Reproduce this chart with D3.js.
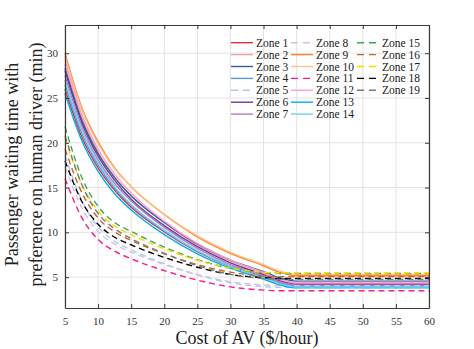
<!DOCTYPE html>
<html>
<head>
<meta charset="utf-8">
<script src="https://cdn.jsdelivr.net/npm/d3@7"></script>
<style>
  body { margin: 0; background: #fff; }
  svg { display: block; }
</style>
</head>
<body>
<svg width="474" height="349"></svg>
<script>
var serif = "'Liberation Serif', 'DejaVu Serif', serif";

// cost of AV ($/hour) sample points
var costs = [5, 7.5, 10, 12.5, 15, 20, 25, 30, 35, 37.5, 40, 45, 50, 55, 60];

var zoneNames = ["Zone 1", "Zone 2", "Zone 3", "Zone 4", "Zone 5", "Zone 6", "Zone 7",
  "Zone 8", "Zone 9", "Zone 10", "Zone 11", "Zone 12", "Zone 13", "Zone 14",
  "Zone 15", "Zone 16", "Zone 17", "Zone 18", "Zone 19"];

var zoneColors = ["#e8303a", "#f4a3a3", "#2f5f98", "#5b9bd5", "#a9cbee", "#6a3d8f", "#b07cc6",
  "#dcbde3", "#ff7f27", "#ffc285", "#ff1a8c", "#ff9fd6", "#00aeef", "#6fd0f0",
  "#3caa4b", "#c8642a", "#ffd500", "#000000", "#7a7a7a"];

var zoneDashed = [false, false, false, false, true, false, false,
  true, false, false, true, false, false, false,
  true, true, true, true, true];

// waiting time (min), one array per zone
var zone1  = [26.0, 20.7, 17.2, 14.7, 12.8, 10.05, 7.85, 6.2, 4.99, 4.33, 4.0, 4.0, 4.0, 4.0, 4.0];
var zone2  = [28.8, 22.9, 19.0, 16.2, 14.1, 11.1, 8.6, 6.8, 5.45, 4.72, 4.35, 4.35, 4.35, 4.35, 4.35];
var zone3  = [28.3, 22.6, 18.8, 16.1, 14.05, 11.1, 8.7, 6.9, 5.62, 4.91, 4.55, 4.55, 4.55, 4.55, 4.55];
var zone4  = [26.5, 21.1, 17.5, 14.9, 13.0, 10.15, 7.9, 6.2, 4.96, 4.29, 3.95, 3.95, 3.95, 3.95, 3.95];
var zone5  = [18.6, 13.6, 10.6, 9.0, 8.05, 6.5, 5.25, 4.37, 3.94, 3.85, 3.85, 3.85, 3.85, 3.85, 3.85];
var zone6  = [28.0, 22.3, 18.5, 15.8, 13.7, 10.75, 8.4, 6.6, 5.27, 4.56, 4.2, 4.2, 4.2, 4.2, 4.2];
var zone7  = [27.5, 21.9, 18.1, 15.45, 13.5, 10.55, 8.2, 6.4, 5.15, 4.45, 4.1, 4.1, 4.1, 4.1, 4.1];
var zone8  = [17.3, 12.8, 10.1, 8.7, 7.8, 6.4, 5.3, 4.5, 4.13, 4.05, 4.05, 4.05, 4.05, 4.05, 4.05];
var zone9  = [30.0, 24.0, 20.1, 17.2, 15.1, 12.0, 9.5, 7.65, 6.27, 5.52, 5.15, 5.15, 5.15, 5.15, 5.15];
var zone10 = [29.7, 23.8, 19.9, 17.1, 15.1, 12.0, 9.6, 7.75, 6.4, 5.67, 5.3, 5.3, 5.3, 5.3, 5.3];
var zone11 = [16.0, 11.7, 9.2, 7.9, 7.05, 5.73, 4.66, 3.91, 3.55, 3.47, 3.47, 3.47, 3.47, 3.47, 3.47];
var zone12 = [29.3, 23.3, 19.3, 16.5, 14.4, 11.25, 8.75, 6.9, 5.52, 4.77, 4.4, 4.4, 4.4, 4.4, 4.4];
var zone13 = [25.5, 20.3, 16.8, 14.3, 12.5, 9.75, 7.6, 6.0, 4.78, 4.13, 3.8, 3.8, 3.8, 3.8, 3.8];
var zone14 = [27.0, 21.5, 17.8, 15.1, 13.1, 10.25, 7.95, 6.2, 4.94, 4.25, 3.9, 3.9, 3.9, 3.9, 3.9];
var zone15 = [21.8, 16.2, 12.9, 11.1, 10.1, 8.35, 6.95, 5.97, 5.5, 5.4, 5.4, 5.4, 5.4, 5.4, 5.4];
var zone16 = [19.3, 14.5, 11.6, 10.05, 9.1, 7.6, 6.4, 5.55, 5.14, 5.05, 5.05, 5.05, 5.05, 5.05, 5.05];
var zone17 = [20.5, 15.4, 12.4, 10.7, 9.75, 8.15, 6.88, 5.98, 5.54, 5.45, 5.45, 5.45, 5.45, 5.45, 5.45];
var zone18 = [18.0, 13.5, 10.9, 9.45, 8.6, 7.2, 6.1, 5.3, 4.93, 4.85, 4.85, 4.85, 4.85, 4.85, 4.85];
var zone19 = [20.8, 15.4, 12.1, 10.4, 9.3, 7.65, 6.28, 5.31, 4.85, 4.75, 4.75, 4.75, 4.75, 4.75, 4.75];

var zoneValues = [zone1, zone2, zone3, zone4, zone5, zone6, zone7, zone8, zone9, zone10,
  zone11, zone12, zone13, zone14, zone15, zone16, zone17, zone18, zone19];

var xTicks = [5, 10, 15, 20, 25, 30, 35, 40, 45, 50, 55, 60];
var yTicks = [5, 10, 15, 20, 25, 30];

var svg = d3.select("svg").attr("font-family", serif);
var margin = {top: 25, right: 45, bottom: 41, left: 65};
var width = +svg.attr("width") - margin.left - margin.right;
var height = +svg.attr("height") - margin.top - margin.bottom;
var g = svg.append("g").attr("transform", "translate(" + margin.left + "," + margin.top + ")");

var x = d3.scaleLinear().domain([5, 60]).range([0, width]);
var y = d3.scaleLinear().domain([1.55, 33.15]).range([height, 0]);

// grid
g.append("g").selectAll("line").data(xTicks).enter().append("line")
  .attr("x1", function(d) { return x(d); }).attr("x2", function(d) { return x(d); })
  .attr("y1", 0).attr("y2", height)
  .attr("stroke", "#e3e3e3").attr("stroke-width", 1);
g.append("g").selectAll("line").data(yTicks).enter().append("line")
  .attr("x1", 0).attr("x2", width)
  .attr("y1", function(d) { return y(d); }).attr("y2", function(d) { return y(d); })
  .attr("stroke", "#e3e3e3").attr("stroke-width", 1);

// curves
var line = d3.line()
  .x(function(d) { return x(d[0]); })
  .y(function(d) { return y(d[1]); })
  .curve(d3.curveMonotoneX);

var series = zoneValues.map(function(vals, i) {
  return { i: i, pts: costs.map(function(c, j) { return [c, vals[j]]; }) };
});

g.append("g").selectAll("path").data(series).enter().append("path")
  .attr("d", function(d) { return line(d.pts); })
  .attr("fill", "none")
  .attr("stroke", function(d) { return zoneColors[d.i]; })
  .attr("stroke-width", 1.4)
  .attr("stroke-dasharray", function(d) { return zoneDashed[d.i] ? "6,4" : null; });

// axes (ticks inward)
g.append("g").attr("transform", "translate(0," + height + ")")
  .call(d3.axisBottom(x).tickValues(xTicks).tickSizeInner(-4).tickSizeOuter(0).tickPadding(9));
g.append("g")
  .call(d3.axisLeft(y).tickValues(yTicks).tickSizeInner(-4).tickSizeOuter(0).tickPadding(7));
g.append("g").attr("transform", "translate(" + width + ",0)")
  .call(d3.axisRight(y).tickValues(yTicks).tickSizeInner(-4).tickSizeOuter(0).tickFormat(""));
g.append("g")
  .call(d3.axisTop(x).tickValues(xTicks).tickSizeInner(-4).tickSizeOuter(0).tickFormat(""));

g.selectAll(".domain").attr("stroke", "#3a3a3a").attr("stroke-width", 1.2);
g.selectAll(".tick line").attr("stroke", "#3a3a3a");
g.selectAll(".tick text")
  .attr("font-family", serif)
  .attr("font-size", 11)
  .attr("fill", "#333");

// axis titles
svg.append("text")
  .attr("x", margin.left + width / 2)
  .attr("y", 344)
  .attr("text-anchor", "middle")
  .attr("font-family", serif)
  .attr("font-size", 18)
  .attr("fill", "#222")
  .text("Cost of AV ($/hour)");

var ylab = svg.append("text")
  .attr("transform", "translate(0," + (margin.top + height / 2 - 2) + ") rotate(-90)")
  .attr("text-anchor", "middle")
  .attr("font-family", serif)
  .attr("font-size", 18)
  .attr("fill", "#222");
ylab.append("tspan").attr("x", 0).attr("y", 18).text("Passenger waiting time with");
ylab.append("tspan").attr("x", 0).attr("y", 42).text("preference on human driver (min)");

// legend
var legendCols = [166, 226, 292];
var legend = g.append("g").selectAll("g").data(zoneNames).enter().append("g")
  .attr("transform", function(d, i) {
    var col = Math.floor(i / 7), row = i % 7;
    return "translate(" + legendCols[col] + "," + (17.7 + row * 11.9) + ")";
  });
legend.append("line")
  .attr("x1", 0).attr("x2", 22).attr("y1", 0).attr("y2", 0)
  .attr("stroke", function(d, i) { return zoneColors[i]; })
  .attr("stroke-width", 1.4)
  .attr("stroke-dasharray", function(d, i) { return zoneDashed[i] ? "7,5" : null; });
legend.append("text")
  .attr("x", 25).attr("y", 0).attr("dy", "0.35em")
  .attr("font-family", serif)
  .attr("font-size", 11.5)
  .attr("fill", "#222")
  .text(function(d) { return d; });
</script>
</body>
</html>
